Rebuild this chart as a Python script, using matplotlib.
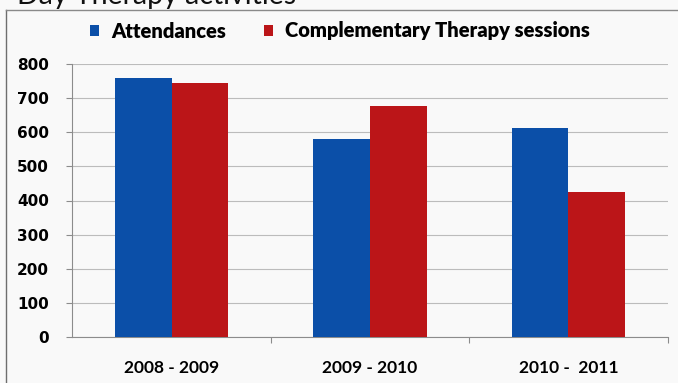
import matplotlib
matplotlib.use("Agg")
import matplotlib.pyplot as plt
from matplotlib.lines import Line2D
import numpy as np

# Day Therapy activity counts per financial year
years = ["2008 - 2009", "2009 - 2010", "2010 -  2011"]
attendances = [757, 579, 612]
therapy_sessions = [743, 677, 424]
series_names = ["Attendances", "Complementary Therapy sessions"]
y_ticks = [0, 100, 200, 300, 400, 500, 600, 700, 800]

BLUE = "#0b4fa8"
RED = "#bb1518"
BG = "#f9f9f9"

W, H = 678, 383
fig = plt.figure(figsize=(W / 100, H / 100), dpi=100, facecolor=BG)
ax = fig.add_axes([72.3 / W, 1 - 337.3 / H, (667.7 - 72.3) / W, (337.3 - 63.7) / H])
ax.set_facecolor(BG)

x = np.arange(len(years))
bw = 0.287
b1 = ax.bar(x - bw / 2, attendances, bw, color=BLUE, label=series_names[0], zorder=3)
b2 = ax.bar(x + bw / 2, therapy_sessions, bw, color=RED, label=series_names[1], zorder=3)

ax.set_xlim(-0.5, len(years) - 0.5)
ax.set_ylim(0, 800)
ax.set_yticks(y_ticks)
ax.set_yticklabels([str(v) for v in y_ticks], fontfamily="DejaVu Sans",
                   fontweight="bold", fontsize=11)
ax.tick_params(axis="y", length=4, width=0.8, color="#8c8c8c", pad=13)

ax.set_xticks(x)
ax.set_xticklabels(years, fontfamily="Lato", fontweight="bold", fontsize=12.5)
ax.tick_params(axis="x", which="major", length=0, pad=16)
ax.set_xticks(np.arange(0.5, len(years)), minor=True)
ax.tick_params(axis="x", which="minor", length=4, width=0.8, color="#8c8c8c")

ax.yaxis.grid(True, color="#bcbcbc", linewidth=0.8, zorder=0)
ax.set_axisbelow(True)
for side in ("top", "right"):
    ax.spines[side].set_visible(False)
for side in ("left", "bottom"):
    ax.spines[side].set_color("#8c8c8c")
    ax.spines[side].set_linewidth(0.8)

# Legend across the top of the chart area
fig.legend(handles=[b1, b2], loc="center left",
           bbox_to_anchor=(90 / W, 1 - 31 / H), ncol=2, frameon=False,
           prop={"family": "Lato", "weight": "heavy", "size": 14.5},
           handlelength=0.45, handleheight=0.45, handletextpad=0.6,
           columnspacing=1.9, borderpad=0, borderaxespad=0)

# Outer chart frame (left and top edges)
fig.add_artist(Line2D([6 / W, 6 / W], [0, 1 - 9.5 / H], transform=fig.transFigure,
                      color="#6e6e6e", linewidth=1.0))
fig.add_artist(Line2D([6 / W, 1], [1 - 9.5 / H, 1 - 9.5 / H], transform=fig.transFigure,
                      color="#8a8a8a", linewidth=1.0))

# Section heading above the frame
fig.text(17 / W, 1 - 4 / H, "Day Therapy activities", fontfamily="Lato",
         fontsize=20.5, va="baseline", ha="left", color="#111111")

fig.savefig("out.png", dpi=100, facecolor=BG)
